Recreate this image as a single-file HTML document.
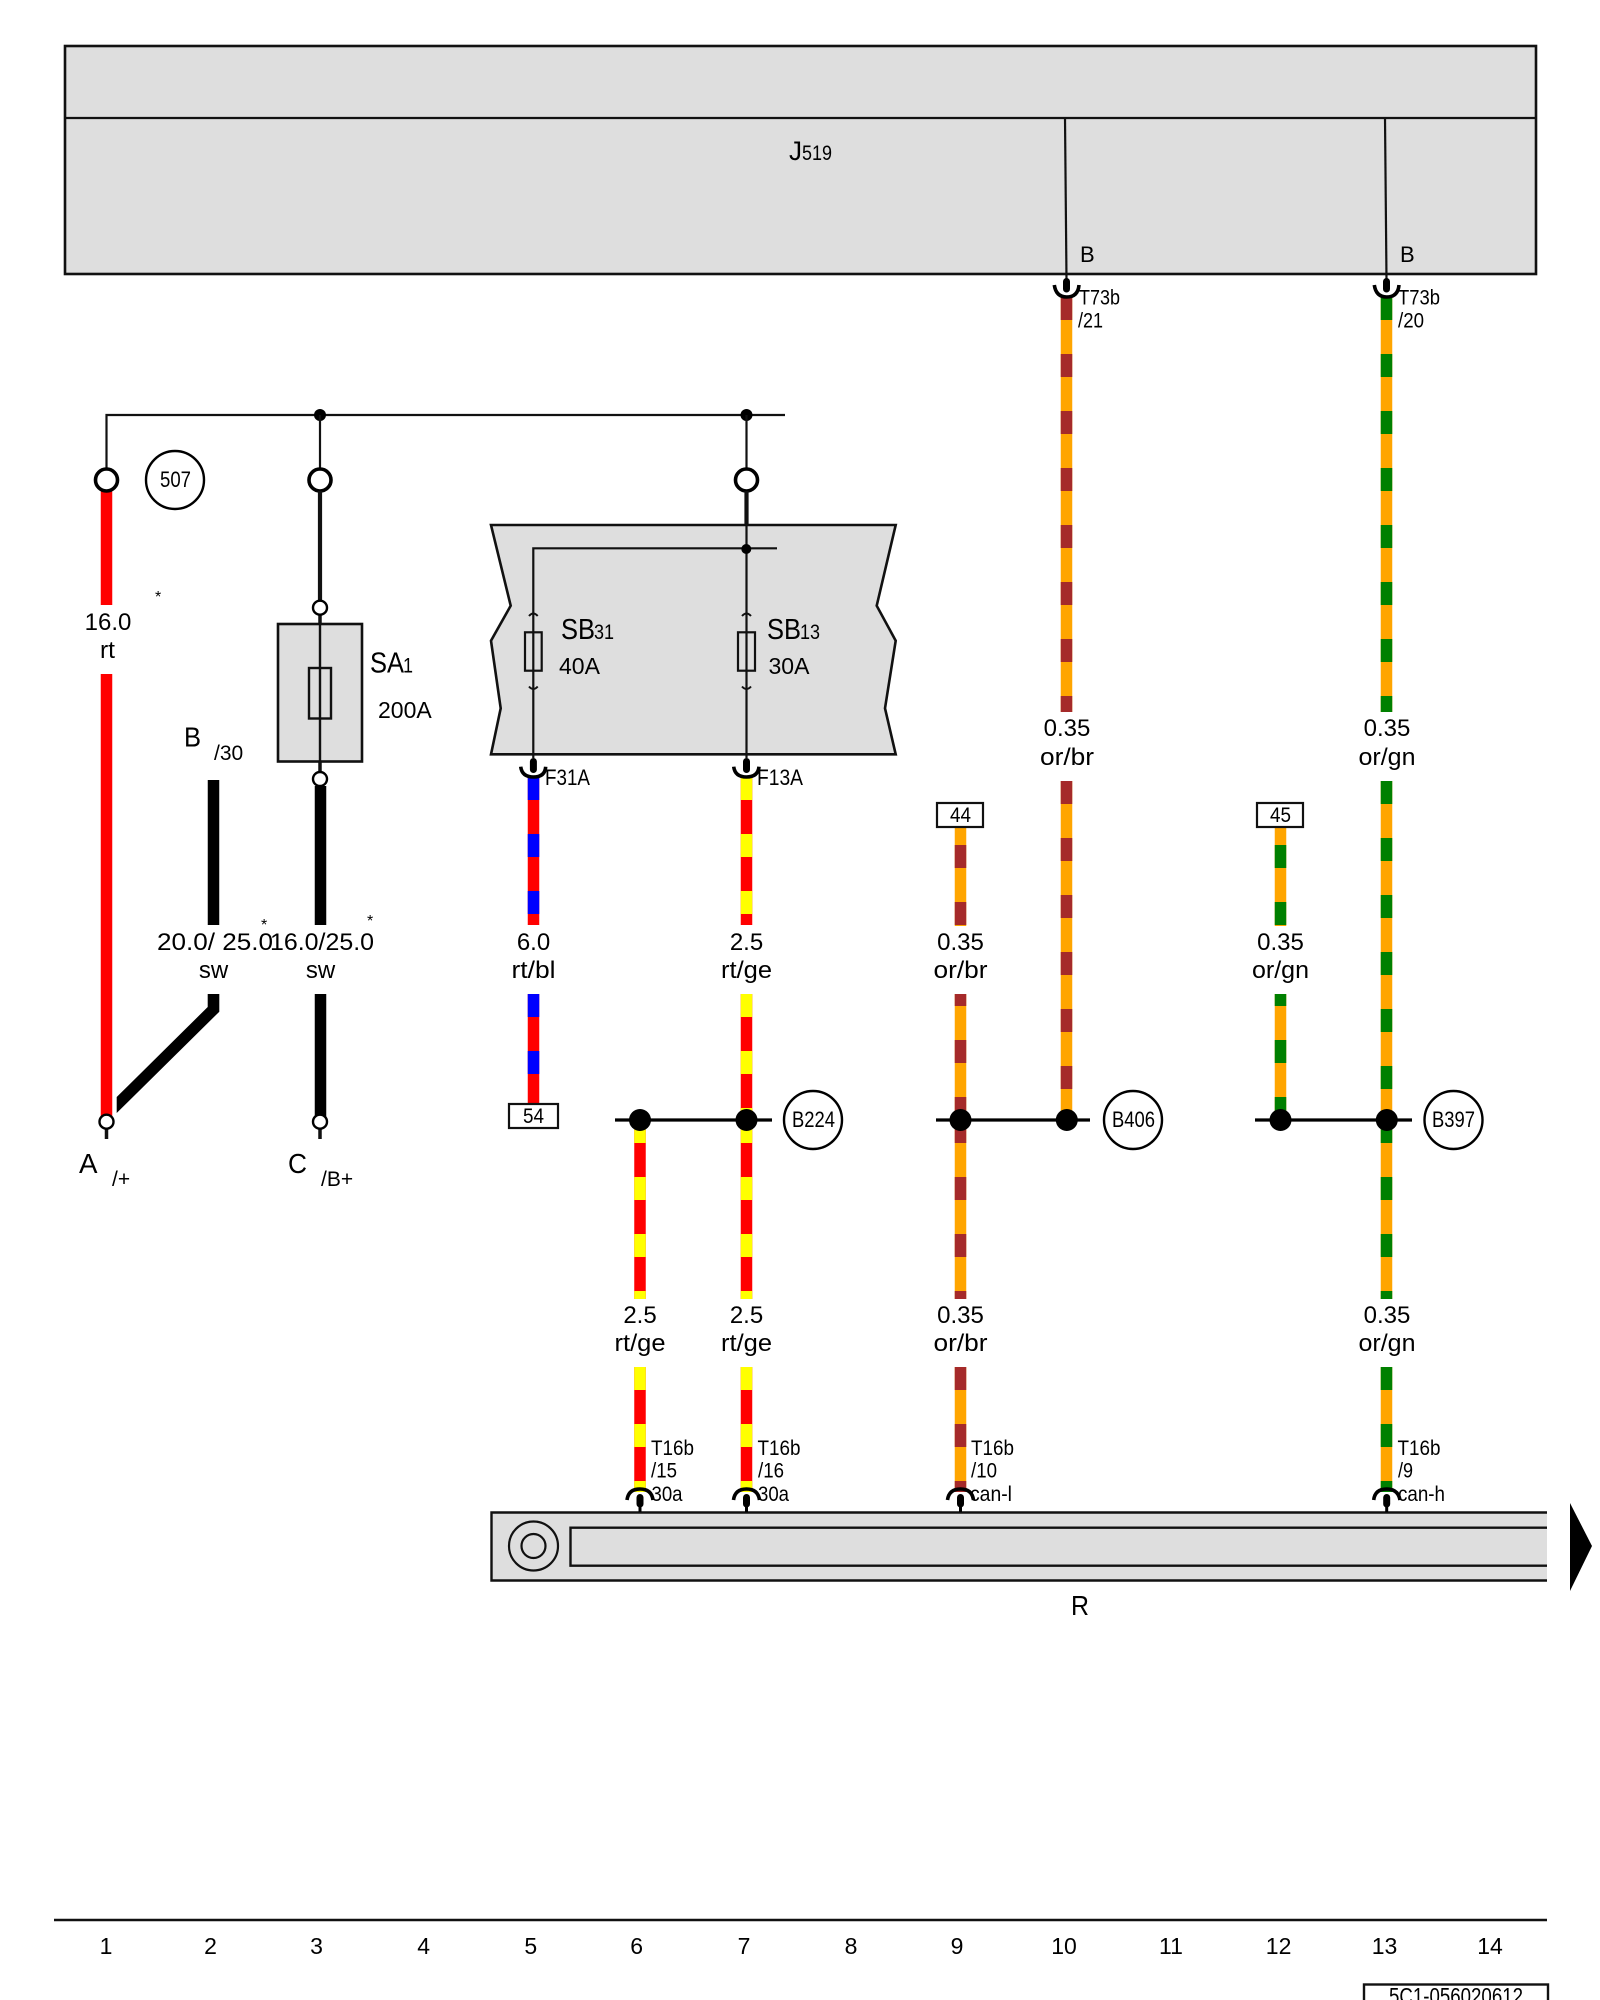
<!DOCTYPE html>
<html><head><meta charset="utf-8"><style>
html,body{margin:0;padding:0;background:#fff}
svg{display:block}
text{font-family:"Liberation Sans",sans-serif;fill:#000}
.w{stroke-width:11.5;fill:none}
.d{stroke-dasharray:23 34}
.or{stroke:#ffa500}.br{stroke:#a52a2a}.gn{stroke:#008000}.rt{stroke:#f00}.ge{stroke:#ff0}.bl{stroke:#00f}.sw{stroke:#000}
.l{stroke:#111;stroke-width:2.2;fill:none}
.s{fill:#dedede;stroke:#111;stroke-width:2.6}
.o{fill:#fff;stroke:#000;stroke-width:2.4}
.m{text-anchor:middle;font-size:24px}
.arc{fill:none;stroke:#000;stroke-width:3.6}
.blob{stroke:#000;stroke-width:7;stroke-linecap:round}
.stem{stroke:#000;stroke-width:3}
</style></head><body>
<svg width="1600" height="2000" viewBox="0 0 1600 2000" xmlns="http://www.w3.org/2000/svg">
<rect width="1600" height="2000" fill="#fff"/>

<!-- J519 -->
<rect class="s" x="65" y="46" width="1471" height="228"/>
<line class="l" x1="65" y1="118" x2="1536" y2="118"/>
<line class="l" x1="1065" y1="118" x2="1066.5" y2="280"/>
<line class="l" x1="1385" y1="118" x2="1386.5" y2="280"/>
<text x="789" y="160" font-size="27" textLength="13" lengthAdjust="spacingAndGlyphs">J</text>
<text x="802" y="160" font-size="21" textLength="30" lengthAdjust="spacingAndGlyphs">519</text>
<text x="1080" y="262" font-size="22">B</text>
<text x="1400" y="262" font-size="22">B</text>

<!-- top bus -->
<path class="l" d="M106.5 469V415H785"/>
<circle cx="320" cy="415" r="6"/><circle cx="746.5" cy="415" r="6"/>
<line class="l" x1="320" y1="415" x2="320" y2="470"/>
<line class="l" x1="746.5" y1="415" x2="746.5" y2="470"/>

<!-- red wire -->
<line class="w rt" x1="106.5" y1="490" x2="106.5" y2="605"/>
<line class="w rt" x1="106.5" y1="674" x2="106.5" y2="1118"/>
<circle cx="106.5" cy="480" r="11" fill="#fff" stroke="#000" stroke-width="3.6"/>
<circle cx="320" cy="480" r="11" fill="#fff" stroke="#000" stroke-width="3.6"/>
<circle cx="746.5" cy="480" r="11" fill="#fff" stroke="#000" stroke-width="3.6"/>
<circle class="o" cx="175" cy="480" r="29"/>
<text x="160" y="487" font-size="22" textLength="31" lengthAdjust="spacingAndGlyphs">507</text>
<text x="155" y="602" font-size="16">*</text>
<text class="m" x="108" y="630">16.0</text>
<text class="m" x="107.5" y="658" textLength="15" lengthAdjust="spacingAndGlyphs">rt</text>

<!-- A / B / C -->
<line class="w sw" x1="213.5" y1="780" x2="213.5" y2="925"/>
<polygon points="207.7,994 219.3,994 219.3,1011.7 116.7,1113 116.7,1097 207.7,1007"/>
<line class="w sw" x1="320.5" y1="786" x2="320.5" y2="925"/>
<line class="w sw" x1="320.5" y1="994" x2="320.5" y2="1118"/>
<line x1="320" y1="491" x2="320" y2="602" stroke="#111" stroke-width="4.2"/>
<rect class="s" x="278" y="624" width="84" height="137.5"/>
<rect x="309" y="668" width="22" height="50.5" fill="none" stroke="#111" stroke-width="2.4"/>
<line x1="320" y1="610" x2="320" y2="775" stroke="#111" stroke-width="2.4"/>
<line x1="320" y1="600" x2="320" y2="624" stroke="#111" stroke-width="3.5"/>
<line x1="320" y1="761" x2="320" y2="775" stroke="#111" stroke-width="3.5"/>
<circle class="o" cx="320" cy="607.7" r="7"/>
<circle class="o" cx="320" cy="779" r="7"/>
<line x1="106.5" y1="1125" x2="106.5" y2="1139" stroke="#111" stroke-width="3.5"/>
<line x1="320" y1="1125" x2="320" y2="1139" stroke="#111" stroke-width="3.5"/>
<circle class="o" cx="106.5" cy="1121.7" r="7"/>
<circle class="o" cx="320" cy="1121.7" r="7"/>
<text x="370" y="672.7" font-size="29" textLength="34" lengthAdjust="spacingAndGlyphs">SA</text>
<text x="403" y="672.7" font-size="21" textLength="10" lengthAdjust="spacingAndGlyphs">1</text>
<text x="378" y="718" font-size="23">200A</text>
<text x="184" y="746.7" font-size="28" textLength="17" lengthAdjust="spacingAndGlyphs">B</text>
<text x="214" y="760" font-size="21">/30</text>
<text x="157" y="950" font-size="24" textLength="116" lengthAdjust="spacingAndGlyphs">20.0/ 25.0</text>
<text x="270" y="950" font-size="24" textLength="104" lengthAdjust="spacingAndGlyphs">16.0/25.0</text>
<text class="m" x="213.5" y="978">sw</text>
<text class="m" x="320.5" y="978">sw</text>
<text x="261" y="930" font-size="16">*</text>
<text x="367" y="926" font-size="16">*</text>
<text x="79" y="1173" font-size="28" textLength="18.5" lengthAdjust="spacingAndGlyphs">A</text>
<text x="112" y="1186" font-size="21">/+</text>
<text x="288" y="1173" font-size="28" textLength="19" lengthAdjust="spacingAndGlyphs">C</text>
<text x="321" y="1186" font-size="21">/B+</text>

<!-- SB box -->
<polygon class="s" points="491,525 895.7,525 876.7,605.7 895.7,640.7 885,708.3 895.7,754.3 491,754.3 500.7,708.3 491,640.7 510.7,605.7"/>
<line x1="746.5" y1="491" x2="746.5" y2="525" stroke="#111" stroke-width="4.2"/>
<path class="l" d="M533.3 758V548.3H777"/>
<line class="l" x1="746.5" y1="525" x2="746.5" y2="758"/>
<circle cx="746.3" cy="549" r="5"/>
<rect x="525" y="632.3" width="16.7" height="38.4" fill="none" stroke="#111" stroke-width="2.2"/>
<rect x="738" y="632.3" width="17" height="38.4" fill="none" stroke="#111" stroke-width="2.2"/>
<path d="M529 616Q533.3 611 537.7 616M529 686.5Q533.3 691.5 537.7 686.5M742 616Q746.5 611 751 616M742 686.5Q746.5 691.5 751 686.5" fill="none" stroke="#111" stroke-width="2"/>
<text x="561" y="639" font-size="29" textLength="34" lengthAdjust="spacingAndGlyphs">SB</text>
<text x="594" y="639" font-size="21" textLength="20" lengthAdjust="spacingAndGlyphs">31</text>
<text x="559" y="674" font-size="23">40A</text>
<text x="767" y="639" font-size="29" textLength="34" lengthAdjust="spacingAndGlyphs">SB</text>
<text x="800" y="639" font-size="21" textLength="20" lengthAdjust="spacingAndGlyphs">13</text>
<text x="768.5" y="674" font-size="23">30A</text>

<!-- wire 5 blue -->
<line class="w rt" x1="533.5" y1="777" x2="533.5" y2="925"/>
<line class="w bl d" x1="533.5" y1="777" x2="533.5" y2="925"/>
<line class="w rt" x1="533.5" y1="994" x2="533.5" y2="1105"/>
<line class="w bl d" x1="533.5" y1="994" x2="533.5" y2="1105"/>
<text class="m" x="533.5" y="950">6.0</text>
<text class="m" x="533.5" y="978" textLength="44" lengthAdjust="spacingAndGlyphs">rt/bl</text>
<rect x="509" y="1104" width="49" height="24" fill="#fff" stroke="#111" stroke-width="2.2"/>
<text x="523" y="1123" font-size="21" textLength="21" lengthAdjust="spacingAndGlyphs">54</text>

<!-- wire 7 -->
<line class="w rt" x1="746.5" y1="777" x2="746.5" y2="925"/>
<line class="w ge d" x1="746.5" y1="777" x2="746.5" y2="925"/>
<line class="w rt" x1="746.5" y1="994" x2="746.5" y2="1120"/>
<line class="w ge d" x1="746.5" y1="994" x2="746.5" y2="1120"/>
<line class="w rt" x1="746.5" y1="1120" x2="746.5" y2="1299"/>
<line class="w ge d" x1="746.5" y1="1120" x2="746.5" y2="1299"/>
<line class="w rt" x1="746.5" y1="1367" x2="746.5" y2="1492"/>
<line class="w ge d" x1="746.5" y1="1367" x2="746.5" y2="1492"/>
<text class="m" x="746.5" y="950">2.5</text>
<text class="m" x="746.5" y="978" textLength="51" lengthAdjust="spacingAndGlyphs">rt/ge</text>
<text class="m" x="746.5" y="1323">2.5</text>
<text class="m" x="746.5" y="1351" textLength="51" lengthAdjust="spacingAndGlyphs">rt/ge</text>

<!-- wire 6 -->
<line class="w rt" x1="640" y1="1120" x2="640" y2="1299"/>
<line class="w ge d" x1="640" y1="1120" x2="640" y2="1299"/>
<line class="w rt" x1="640" y1="1367" x2="640" y2="1492"/>
<line class="w ge d" x1="640" y1="1367" x2="640" y2="1492"/>
<text class="m" x="640" y="1323">2.5</text>
<text class="m" x="640" y="1351" textLength="51" lengthAdjust="spacingAndGlyphs">rt/ge</text>

<!-- wire 9 -->
<line class="w or" x1="960.5" y1="827" x2="960.5" y2="926"/>
<line class="w br d" x1="960.5" y1="845" x2="960.5" y2="926"/>
<line class="w or" x1="960.5" y1="994" x2="960.5" y2="1120"/>
<line class="w br d" x1="960.5" y1="994" x2="960.5" y2="1120" stroke-dashoffset="11"/>
<line class="w or" x1="960.5" y1="1120" x2="960.5" y2="1299"/>
<line class="w br d" x1="960.5" y1="1120" x2="960.5" y2="1299"/>
<line class="w or" x1="960.5" y1="1367" x2="960.5" y2="1492"/>
<line class="w br d" x1="960.5" y1="1367" x2="960.5" y2="1492"/>
<rect x="937" y="803" width="46" height="24" fill="#fff" stroke="#111" stroke-width="2.2"/>
<text x="950" y="822" font-size="21" textLength="21" lengthAdjust="spacingAndGlyphs">44</text>
<text class="m" x="960.5" y="950">0.35</text>
<text class="m" x="960.5" y="978" textLength="54" lengthAdjust="spacingAndGlyphs">or/br</text>
<text class="m" x="960.5" y="1323">0.35</text>
<text class="m" x="960.5" y="1351" textLength="54" lengthAdjust="spacingAndGlyphs">or/br</text>

<!-- wire 10 -->
<line class="w or" x1="1066.5" y1="297" x2="1066.5" y2="712"/>
<line class="w br d" x1="1066.5" y1="297" x2="1066.5" y2="712"/>
<line class="w or" x1="1066.5" y1="781" x2="1066.5" y2="1120"/>
<line class="w br d" x1="1066.5" y1="781" x2="1066.5" y2="1120"/>
<text class="m" x="1067" y="736">0.35</text>
<text class="m" x="1067" y="765" textLength="54" lengthAdjust="spacingAndGlyphs">or/br</text>

<!-- wire 12 -->
<line class="w or" x1="1280.5" y1="827" x2="1280.5" y2="926"/>
<line class="w gn d" x1="1280.5" y1="845" x2="1280.5" y2="926"/>
<line class="w or" x1="1280.5" y1="994" x2="1280.5" y2="1120"/>
<line class="w gn d" x1="1280.5" y1="994" x2="1280.5" y2="1120" stroke-dashoffset="11"/>
<rect x="1257" y="803" width="46" height="24" fill="#fff" stroke="#111" stroke-width="2.2"/>
<text x="1270" y="822" font-size="21" textLength="21" lengthAdjust="spacingAndGlyphs">45</text>
<text class="m" x="1280.5" y="950">0.35</text>
<text class="m" x="1280.5" y="978" textLength="57" lengthAdjust="spacingAndGlyphs">or/gn</text>

<!-- wire 13 -->
<line class="w or" x1="1386.5" y1="297" x2="1386.5" y2="712"/>
<line class="w gn d" x1="1386.5" y1="297" x2="1386.5" y2="712"/>
<line class="w or" x1="1386.5" y1="781" x2="1386.5" y2="1120"/>
<line class="w gn d" x1="1386.5" y1="781" x2="1386.5" y2="1120"/>
<line class="w or" x1="1386.5" y1="1120" x2="1386.5" y2="1299"/>
<line class="w gn d" x1="1386.5" y1="1120" x2="1386.5" y2="1299"/>
<line class="w or" x1="1386.5" y1="1367" x2="1386.5" y2="1492"/>
<line class="w gn d" x1="1386.5" y1="1367" x2="1386.5" y2="1492"/>
<text class="m" x="1387" y="736">0.35</text>
<text class="m" x="1387" y="765" textLength="57" lengthAdjust="spacingAndGlyphs">or/gn</text>
<text class="m" x="1387" y="1323">0.35</text>
<text class="m" x="1387" y="1351" textLength="57" lengthAdjust="spacingAndGlyphs">or/gn</text>

<!-- junctions -->
<line x1="615" y1="1120" x2="772" y2="1120" stroke="#000" stroke-width="3.2"/>
<line x1="936" y1="1120" x2="1090" y2="1120" stroke="#000" stroke-width="3.2"/>
<line x1="1255" y1="1120" x2="1412" y2="1120" stroke="#000" stroke-width="3.2"/>
<circle cx="640" cy="1120" r="11"/><circle cx="746.5" cy="1120" r="11"/>
<circle cx="960.5" cy="1120" r="11"/><circle cx="1066.8" cy="1120" r="11"/>
<circle cx="1280.5" cy="1120" r="11"/><circle cx="1386.8" cy="1120" r="11"/>
<circle class="o" cx="813" cy="1120" r="29"/>
<circle class="o" cx="1133" cy="1120" r="29"/>
<circle class="o" cx="1453.5" cy="1120" r="29"/>
<text x="792" y="1127" font-size="22" textLength="43" lengthAdjust="spacingAndGlyphs">B224</text>
<text x="1112" y="1127" font-size="22" textLength="43" lengthAdjust="spacingAndGlyphs">B406</text>
<text x="1432" y="1127" font-size="22" textLength="43" lengthAdjust="spacingAndGlyphs">B397</text>

<!-- upper connectors -->
<path class="arc" d="M520.7 766.7Q522 777 533.4 777Q545 777 545.7 766.7"/>
<path class="arc" d="M733.7 766.7Q735 777 746.5 777Q758 777 759 766.7"/>
<path class="arc" d="M1054.3 285Q1056 297 1066.7 297Q1078 297 1079 285"/>
<path class="arc" d="M1374.3 285Q1376 297 1386.7 297Q1398 297 1399 285"/>
<line class="blob" x1="533.4" y1="761.5" x2="533.4" y2="769.5"/>
<line class="blob" x1="746.5" y1="761.5" x2="746.5" y2="769.5"/>
<line class="blob" x1="1066.5" y1="281.5" x2="1066.5" y2="289"/>
<line class="blob" x1="1386.5" y1="281.5" x2="1386.5" y2="289"/>
<text x="545" y="785" font-size="22" textLength="45" lengthAdjust="spacingAndGlyphs">F31A</text>
<text x="757" y="785" font-size="22" textLength="46" lengthAdjust="spacingAndGlyphs">F13A</text>
<text x="1079" y="304.3" font-size="21" textLength="41" lengthAdjust="spacingAndGlyphs">T73b</text>
<text x="1078" y="327.7" font-size="21" textLength="25" lengthAdjust="spacingAndGlyphs">/21</text>
<text x="1398" y="304.3" font-size="21" textLength="42" lengthAdjust="spacingAndGlyphs">T73b</text>
<text x="1398" y="327.7" font-size="21" textLength="26" lengthAdjust="spacingAndGlyphs">/20</text>

<!-- R -->
<rect x="491" y="1512" width="1056" height="69" fill="#dedede"/>
<path d="M1547 1512.5H491.5V1580.5H1547" fill="none" stroke="#111" stroke-width="2.4"/>
<path d="M1547 1527.7H570.5V1565.7H1547" fill="none" stroke="#111" stroke-width="2.4"/>
<circle cx="533.5" cy="1546" r="24.5" fill="none" stroke="#111" stroke-width="2.2"/>
<circle cx="533.5" cy="1546" r="12" fill="none" stroke="#111" stroke-width="2.2"/>
<polygon points="1570,1503 1592,1546 1570,1591"/>
<text x="1071" y="1615" font-size="28" textLength="18" lengthAdjust="spacingAndGlyphs">R</text>

<!-- lower connectors -->
<path class="arc" d="M627 1500Q628.5 1489 640 1489Q651.5 1489 653 1500"/>
<path class="arc" d="M733.5 1500Q735 1489 746.5 1489Q758 1489 759.5 1500"/>
<path class="arc" d="M947.5 1500Q949 1489 960.5 1489Q972 1489 973.5 1500"/>
<path class="arc" d="M1373.7 1500Q1375 1489 1386.7 1489Q1398 1489 1400 1500"/>
<line class="blob" x1="640" y1="1497.5" x2="640" y2="1504"/>
<line class="blob" x1="746.5" y1="1497.5" x2="746.5" y2="1504"/>
<line class="blob" x1="960.5" y1="1497.5" x2="960.5" y2="1504"/>
<line class="blob" x1="1386.7" y1="1497.5" x2="1386.7" y2="1504"/>
<line class="stem" x1="640" y1="1504" x2="640" y2="1512"/>
<line class="stem" x1="746.5" y1="1504" x2="746.5" y2="1512"/>
<line class="stem" x1="960.5" y1="1504" x2="960.5" y2="1512"/>
<line class="stem" x1="1386.7" y1="1504" x2="1386.7" y2="1512"/>

<text x="651" y="1455" font-size="21" textLength="43" lengthAdjust="spacingAndGlyphs">T16b</text>
<text x="651" y="1477.7" font-size="21" textLength="26" lengthAdjust="spacingAndGlyphs">/15</text>
<text x="651.5" y="1501" font-size="21" textLength="31" lengthAdjust="spacingAndGlyphs">30a</text>
<text x="757.500" y="1455" font-size="21" textLength="43" lengthAdjust="spacingAndGlyphs">T16b</text>
<text x="758" y="1477.7" font-size="21" textLength="26" lengthAdjust="spacingAndGlyphs">/16</text>
<text x="758" y="1501" font-size="21" textLength="31" lengthAdjust="spacingAndGlyphs">30a</text>
<text x="971" y="1455" font-size="21" textLength="43" lengthAdjust="spacingAndGlyphs">T16b</text>
<text x="971" y="1477.7" font-size="21" textLength="26" lengthAdjust="spacingAndGlyphs">/10</text>
<text x="970" y="1501" font-size="21" textLength="42" lengthAdjust="spacingAndGlyphs">can-l</text>
<text x="1397.5" y="1455" font-size="21" textLength="43" lengthAdjust="spacingAndGlyphs">T16b</text>
<text x="1398" y="1477.7" font-size="21" textLength="15" lengthAdjust="spacingAndGlyphs">/9</text>
<text x="1398" y="1501" font-size="21" textLength="47" lengthAdjust="spacingAndGlyphs">can-h</text>

<!-- footer -->
<line x1="54" y1="1920" x2="1547" y2="1920" stroke="#111" stroke-width="2.5"/>
<g font-size="23" text-anchor="middle">
<text x="106" y="1954">1</text><text x="210.5" y="1954">2</text><text x="316.5" y="1954">3</text><text x="423.6" y="1954">4</text><text x="530.8" y="1954">5</text><text x="636.7" y="1954">6</text><text x="744" y="1954">7</text><text x="851" y="1954">8</text><text x="957" y="1954">9</text><text x="1064" y="1954">10</text><text x="1171" y="1954">11</text><text x="1278.6" y="1954">12</text><text x="1384.5" y="1954">13</text><text x="1490" y="1954">14</text>
</g>
<rect x="1364" y="1984.5" width="184" height="30" fill="#fff" stroke="#111" stroke-width="2.4"/>
<text x="1389" y="2004" font-size="23" textLength="134" lengthAdjust="spacingAndGlyphs">5C1-056020612</text>
</svg>
</body></html>
